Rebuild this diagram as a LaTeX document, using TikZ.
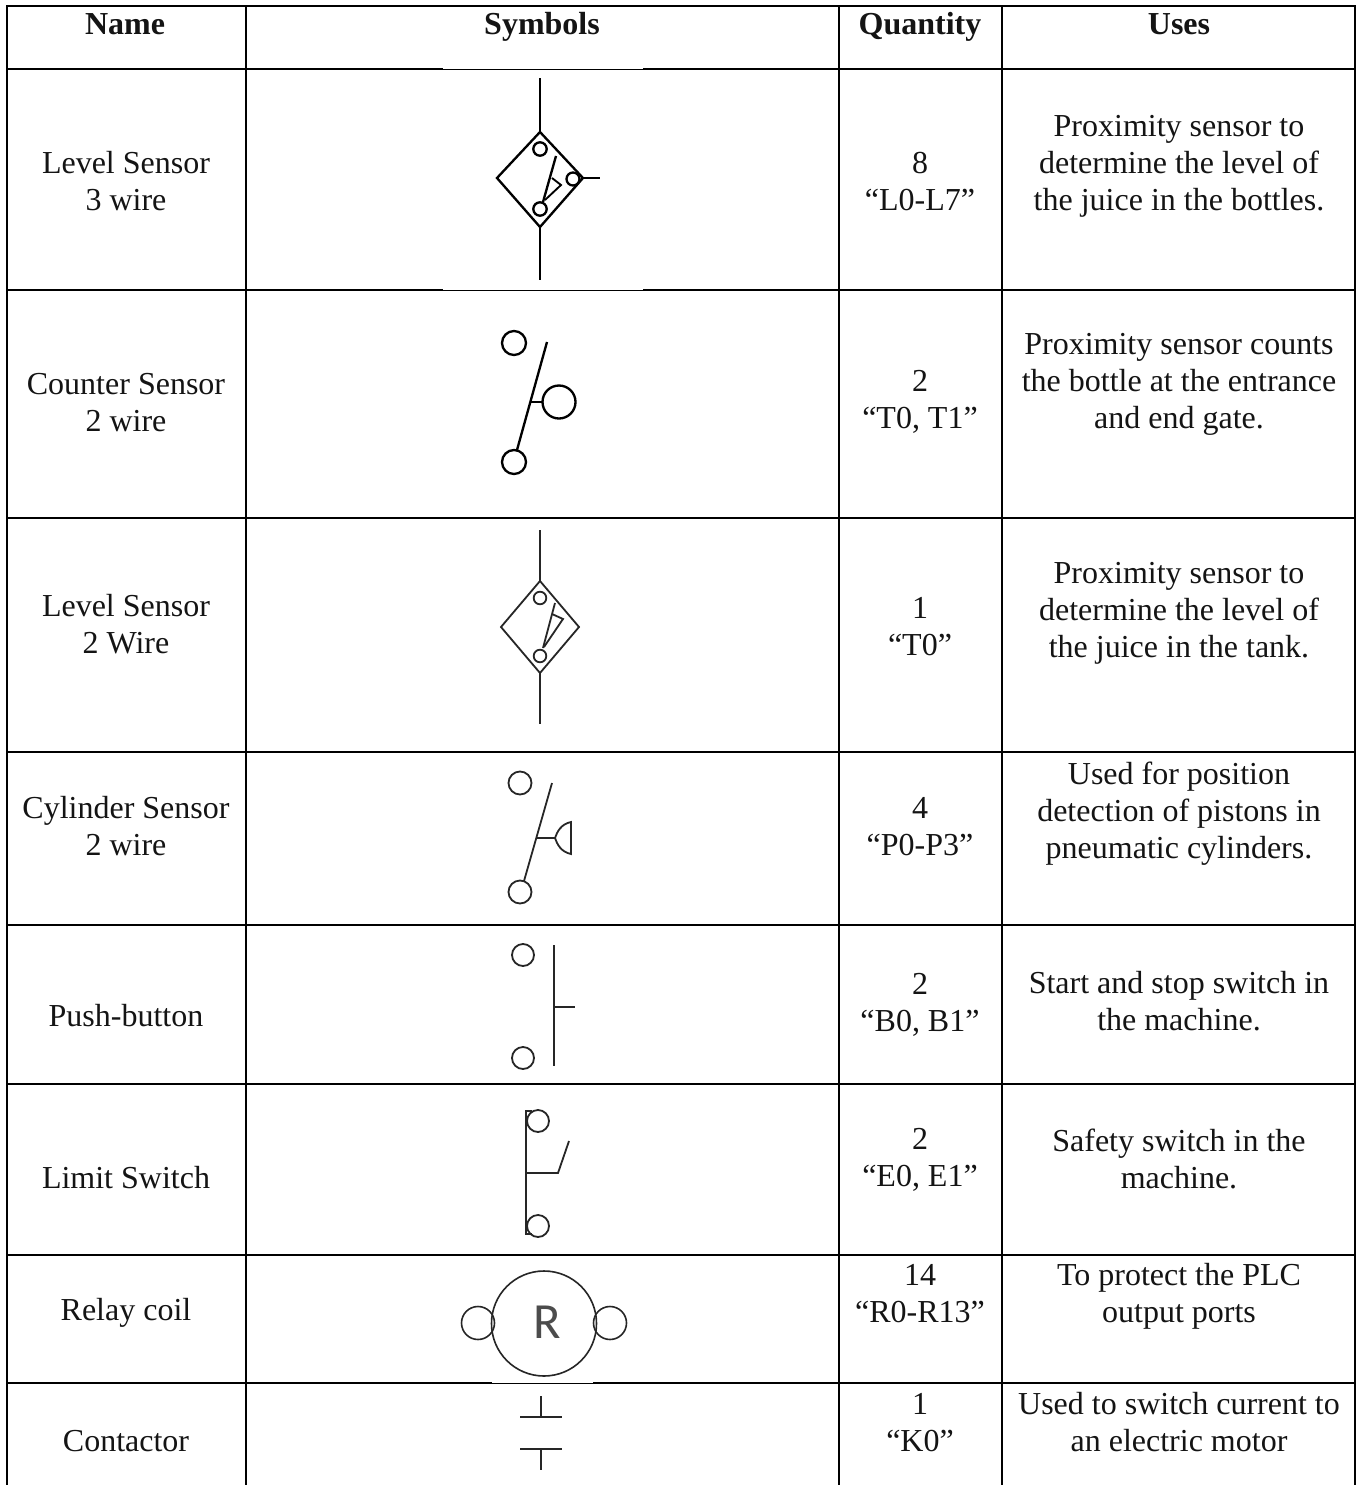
\documentclass[tikz,border=0pt]{standalone}
\usepackage{fontspec}
\setmainfont{Liberation Serif}
\newfontfamily\rfont{Carlito}
\tikzset{
 grid/.style={line width=1.6pt,black},
 thin grid/.style={line width=0.75pt,black},
 sym/.style={line width=1.35pt,black!85},
 symb/.style={line width=1.75pt,black},
 cell/.style={align=center,font=\fontsize{24}{27.75}\selectfont,inner sep=0pt,text=black!92},
 head/.style={cell,anchor=base,font=\fontsize{24}{27.75}\selectfont\bfseries},
}
\begin{document}
\begin{tikzpicture}[x=0.75pt,y=-0.75pt]
\useasboundingbox (0,0) rectangle (1362,1485);
\fill[white] (0,0) rectangle (1362,1485);
% grid
\foreach \x in {7,246,839,1002,1355}{\draw[grid] (\x,5.2)--(\x,1485);}
\draw[grid] (6,6)--(1356,6);
\foreach \y in {69,290}{
 \draw[grid] (6,\y)--(443,\y); \draw[grid] (643,\y)--(1356,\y);
 \draw[thin grid] (443,\y)--(643,\y);}
\foreach \y in {518,752,925,1084,1255}{\draw[grid] (6,\y)--(1356,\y);}
\draw[grid] (6,1383)--(492,1383); \draw[grid] (593,1383)--(1356,1383);
\draw[thin grid] (492,1383)--(593,1383);
% header
\node[head] (h1) at (125,34) {Name};
\node[head] (h2) at (542,34) {Symbols};
\node[head] (h3) at (920,34) {Quantity};
\node[head] (h4) at (1179,34) {Uses};
% column 1
\node[cell] (n1) at (126,181) {Level Sensor\\3 wire};
\node[cell] (n2) at (126,403) {Counter Sensor\\2 wire};
\node[cell] (n3) at (126,624) {Level Sensor\\2 Wire};
\node[cell] (n4) at (126,826) {Cylinder Sensor\\2 wire};
\node[cell] (n5) at (126,1016) {Push-button};
\node[cell] (n6) at (126,1178) {Limit Switch};
\node[cell] (n7) at (126,1313) {Relay coil};
\node[cell] (n8) at (126,1441) {Contactor};
% column 3
\node[cell] (q1) at (920,182) {8\\“L0-L7”};
\node[cell] (q2) at (920,402) {2\\“T0, T1”};
\node[cell] (q3) at (920,627) {1\\“T0”};
\node[cell] (q4) at (920,827) {4\\“P0-P3”};
\node[cell] (q5) at (920,1005) {2\\“B0, B1”};
\node[cell] (q6) at (920,1160) {2\\“E0, E1”};
\node[cell] (q7) at (920,1294) {14\\“R0-R13”};
\node[cell] (q8) at (920,1423) {1\\“K0”};
% column 4
\node[cell] (u1) at (1179,166) {Proximity sensor to\\determine the level of\\the juice in the bottles.};
\node[cell] (u2) at (1179,384) {Proximity sensor counts\\the bottle at the entrance\\and end gate.};
\node[cell] (u3) at (1179,613) {Proximity sensor to\\determine the level of\\the juice in the tank.};
\node[cell] (u4) at (1179,814) {Used for position\\detection of pistons in\\pneumatic cylinders.};
\node[cell] (u5) at (1179,1001) {Start and stop switch in\\the machine.};
\node[cell] (u6) at (1179,1159) {Safety switch in the\\machine.};
\node[cell] (u7) at (1179,1296) {To protect the PLC\\output ports};
\node[cell] (u8) at (1179,1422) {Used to switch current to\\an electric motor};
% symbol 1: level sensor 3 wire
\draw[symb,line join=miter] (540,132)--(583,178)--(540,227)--(497,178)--cycle;
\draw[symb] (540,78)--(540,132);
\draw[symb] (540,227)--(540,280);
\draw[symb] (540,149) circle (6.7);
\draw[symb] (540,209) circle (6.7);
\draw[symb] (573,179) circle (6.5);
\draw[symb] (583,178)--(600,178);
\draw[symb] (556,156)--(543,202);
\draw[line width=1.4pt] (552,178)--(561,185)--(545,200);
% symbol 2: counter sensor
\draw[symb] (514,343) circle (12);
\draw[symb] (514,462) circle (12);
\draw[symb] (559,402) circle (16.5);
\draw[symb] (547,342)--(517,450);
\draw[symb] (531,402)--(543,402);
% symbol 3: level sensor 2 wire
\draw[sym] (540,581)--(579,627)--(540,673)--(501,627)--cycle;
\draw[sym] (540,530)--(540,581);
\draw[sym] (540,673)--(540,724);
\draw[sym] (540,598) circle (6.3);
\draw[sym] (540,656) circle (6.3);
\draw[sym] (555,603)--(543,648);
\draw[sym] (552,614)--(563,619)--(544,647);
% symbol 4: cylinder sensor
\draw[sym] (520,783) circle (11.5);
\draw[sym] (520,892) circle (11.5);
\draw[sym] (552,783)--(524,881);
\draw[sym] (537,838)--(555,838);
\draw[sym] (571,822) .. controls (561,824) and (557,832) .. (555,838) .. controls (557,844) and (561,852) .. (571,854)--cycle;
% symbol 5: push-button
\draw[sym] (523,955) circle (11);
\draw[sym] (523,1058) circle (11);
\draw[sym] (554,945)--(554,1066);
\draw[sym] (554,1007)--(575,1007);
% symbol 6: limit switch
\draw[sym] (538,1121) circle (11);
\draw[sym] (538,1226) circle (11);
\draw[sym] (532,1111)--(526,1111)--(526,1234)--(532,1234);
\draw[sym] (526,1173)--(558,1173)--(569,1141);
% symbol 7: relay coil
\draw[line width=1.2pt,black!85] (544,1323.5) circle (52.5);
\draw[line width=1.2pt,black!85] (478,1323) circle (16.5);
\draw[line width=1.2pt,black!85] (610,1323) circle (16.5);
\node[inner sep=0pt,text=black!70] (r) at (547,1322) {\rfont\fontsize{38}{38}\selectfont R};
% symbol 8: contactor
\draw[sym] (541,1396)--(541,1417);
\draw[sym] (520,1417)--(562,1417);
\draw[sym] (520,1449)--(562,1449);
\draw[sym] (541,1449)--(541,1470);
\end{tikzpicture}
\end{document}
